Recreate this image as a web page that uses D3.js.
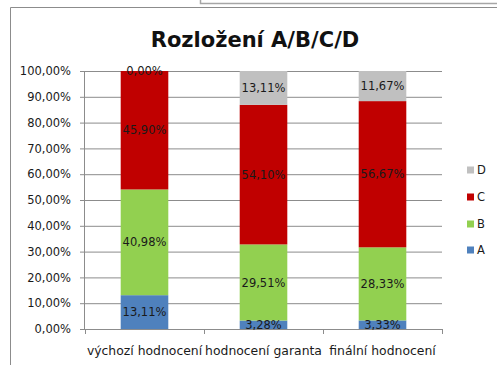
<!DOCTYPE html>
<html>
<head>
<meta charset="utf-8">
<script src="https://cdn.jsdelivr.net/npm/d3@7"></script>
<style>
  body { margin: 0; background: #fff; }
  svg { display: block; }
  text { font-family: "DejaVu Sans", sans-serif; }
</style>
</head>
<body>
<svg id="chart" width="497" height="365"></svg>
<script>
// Categories and per-series percentages (stacked to 100 %)
const categories = ["výchozí hodnocení", "hodnocení garanta", "finální hodnocení"];
const seriesNames = ["A", "B", "C", "D"];
const valuesA = [13.11, 3.28, 3.33];
const valuesB = [40.98, 29.51, 28.33];
const valuesC = [45.90, 54.10, 56.67];
const valuesD = [0.00, 13.11, 11.67];
const yTickValues = [0, 10, 20, 30, 40, 50, 60, 70, 80, 90, 100];
const titleText = "Rozložení A/B/C/D";

const colors = { A: "#4f81bd", B: "#92d050", C: "#c00000", D: "#c0c0c0" };
const gridColor = "#8c8c8c";

const svg = d3.select("#chart");

// outer frame pieces
const frame = svg.append("g").attr("fill", "none");
frame.append("path").attr("d", "M200.5,0 V3.5 H497").attr("stroke", "#a6a6a6").attr("stroke-width", 1.5);
frame.append("path").attr("d", "M10.5,365 V7.5 H497").attr("stroke", "#8c8c8c").attr("stroke-width", 1);

// table of rows for d3.stack
const rows = categories.map((c, i) => ({
  category: c, A: valuesA[i], B: valuesB[i], C: valuesC[i], D: valuesD[i]
}));
const stacked = d3.stack().keys(seriesNames)(rows);

const plot = { left: 85, right: 442, top: 71, bottom: 329 };

const x = d3.scaleBand().domain(categories).range([plot.left, plot.right]).padding(0);
const y = d3.scaleLinear().domain([0, 100]).range([plot.bottom, plot.top]);
const barWidth = x.bandwidth() * 0.4;

const fmt = v => d3.format(".2f")(v).replace(".", ",") + "%";

// horizontal gridlines
svg.append("g")
  .attr("transform", `translate(${plot.left},0)`)
  .call(d3.axisLeft(y).tickValues(yTickValues).tickSize(-(plot.right - plot.left)).tickFormat(""))
  .call(g => g.select(".domain").remove())
  .call(g => g.selectAll("line").attr("stroke", gridColor));

// bars
const layer = svg.append("g").selectAll("g")
  .data(stacked).join("g")
  .attr("fill", d => colors[d.key]);
layer.selectAll("rect")
  .data(d => d).join("rect")
  .attr("x", d => x(d.data.category) + (x.bandwidth() - barWidth) / 2)
  .attr("width", barWidth)
  .attr("y", d => y(d[1]))
  .attr("height", d => y(d[0]) - y(d[1]));

// y axis
svg.append("g")
  .attr("transform", `translate(${plot.left},0)`)
  .call(d3.axisLeft(y).tickValues(yTickValues).tickSize(5).tickPadding(9).tickFormat(fmt))
  .call(g => g.select(".domain").attr("stroke", gridColor).attr("d", `M-0.5,${plot.bottom}V${plot.top}`))
  .call(g => g.selectAll("line").attr("stroke", gridColor))
  .call(g => g.selectAll("text").attr("font-size", 11.5).attr("fill", "#1a1a1a").attr("font-family", "DejaVu Sans"));

// x axis with labels at band centres
svg.append("g")
  .attr("transform", `translate(0,${plot.bottom})`)
  .call(d3.axisBottom(x).tickSize(0).tickPadding(17))
  .call(g => g.select(".domain").attr("stroke", gridColor).attr("d", `M${plot.left},0.5H${plot.right}`))
  .call(g => g.selectAll("text").attr("font-size", 12.4).attr("fill", "#1a1a1a").attr("font-family", "DejaVu Sans"));

// boundary tick marks on the category axis
const bounds = categories.map(c => x(c)).concat([x(categories[categories.length - 1]) + x.bandwidth()]);
svg.append("g").selectAll("line")
  .data(bounds).join("line")
  .attr("x1", d => Math.round(d) + 0.5).attr("x2", d => Math.round(d) + 0.5)
  .attr("y1", plot.bottom).attr("y2", plot.bottom + 5)
  .attr("stroke", gridColor);

// value labels centred in each segment
const labels = svg.append("g").attr("font-size", 11.5).attr("fill", "#1a1a1a").attr("text-anchor", "middle");
stacked.forEach(s => {
  labels.selectAll(null)
    .data(s).join("text")
    .attr("x", d => x(d.data.category) + x.bandwidth() / 2)
    .attr("y", d => (y(d[0]) + y(d[1])) / 2)
    .attr("dy", "0.36em")
    .text(d => fmt(d.data[s.key]));
});

// legend (D on top, A at bottom)
const legendY = { D: 170, C: 197, B: 224, A: 250 };
const legend = svg.append("g").selectAll("g")
  .data(seriesNames).join("g")
  .attr("transform", d => `translate(467,${legendY[d]})`);
legend.append("rect").attr("x", 0).attr("y", -3.5).attr("width", 7).attr("height", 7).attr("fill", d => colors[d]);
legend.append("text").attr("x", 10).attr("dy", "0.36em").attr("font-size", 11.5).attr("fill", "#1a1a1a").text(d => d);

// title
svg.append("text")
  .attr("x", 255).attr("y", 46.5)
  .attr("text-anchor", "middle")
  .attr("font-family", "Lato, sans-serif")
  .attr("font-weight", "bold")
  .attr("font-size", 21)
  .attr("fill", "#111")
  .text(titleText);
</script>
</body>
</html>
